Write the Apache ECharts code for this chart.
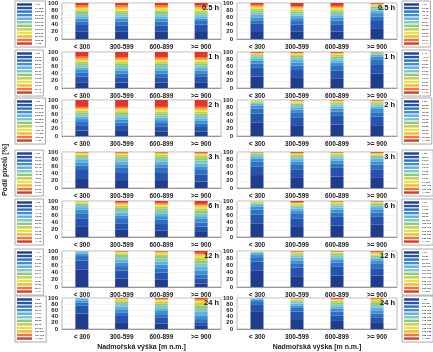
<!DOCTYPE html>
<html>
<head>
<meta charset="utf-8">
<script src="https://cdn.jsdelivr.net/npm/echarts@6/dist/echarts.min.js"></script>
<style>
  html, body { margin: 0; padding: 0; background: #fff; }
  #chart-container { width: 433px; height: 352px; }
</style>
</head>
<body>
<div id="chart-container"></div>
<script>
const categories = ["< 300", "300-599", "600-899", ">= 900"];
const durations = ["0.5 h", "1 h", "2 h", "3 h", "6 h", "12 h", "24 h"];

// colour of each class, bottom of the bar (first) to top (last)
const colors = [
  "#1f3d8c", "#2653ad", "#2e70c2", "#3f8fd2", "#5fb0dc", "#7fc7c6",
  "#8fca7c", "#bdd24c", "#f0e23c", "#f4b43e", "#ee7c2e", "#e0352a",
];

// share of pixels [%] per class, one row per height band (left column)
const left05 = [
  [20, 19, 10, 8, 6, 6, 6, 5, 5, 4, 5, 6],
  [20, 18, 10, 8, 6, 6, 6, 5, 5, 5, 5, 6],
  [20, 18, 10, 8, 7, 6, 6, 5, 5, 4, 5, 6],
  [22, 18, 10, 7, 6, 5, 6, 5, 5, 4, 5, 7],
];
const left1 = [
  [16, 16, 10, 8, 7, 6, 6, 5, 4, 4, 5, 13],
  [15, 15, 10, 8, 7, 6, 6, 5, 5, 4, 5, 14],
  [15, 15, 10, 8, 7, 6, 6, 5, 5, 4, 5, 14],
  [16, 15, 10, 8, 7, 6, 6, 5, 4, 4, 5, 14],
];
const left2 = [
  [15, 15, 9, 8, 7, 6, 5, 5, 4, 3, 4, 19],
  [14, 14, 9, 8, 7, 6, 6, 5, 4, 4, 4, 19],
  [13, 14, 9, 8, 7, 6, 6, 5, 5, 4, 4, 19],
  [12, 13, 9, 8, 7, 7, 6, 5, 5, 4, 5, 19],
];
const left3 = [
  [25, 25, 12, 9, 7, 6, 5, 4, 3, 2, 1, 1],
  [22, 22, 12, 10, 8, 7, 6, 5, 3, 2, 2, 1],
  [22, 22, 12, 10, 8, 7, 6, 5, 3, 2, 2, 1],
  [18, 20, 12, 10, 8, 8, 7, 6, 4, 3, 2, 2],
];
const left6 = [
  [28, 24, 14, 10, 7, 6, 4, 3, 2, 1, 1, 0],
  [20, 18, 12, 10, 8, 7, 6, 5, 4, 3, 3, 4],
  [18, 18, 12, 10, 8, 7, 6, 5, 4, 4, 3, 5],
  [14, 15, 11, 10, 8, 8, 7, 6, 5, 4, 4, 8],
];
const left12 = [
  [48, 26, 12, 7, 4, 2, 1, 0, 0, 0, 0, 0],
  [24, 22, 12, 10, 8, 7, 6, 4, 3, 2, 1, 1],
  [20, 20, 12, 10, 9, 8, 7, 5, 4, 2, 2, 1],
  [10, 14, 10, 12, 10, 9, 9, 7, 6, 4, 4, 5],
];
const left24 = [
  [50, 25, 10, 7, 6, 2, 0, 0, 0, 0, 0, 0],
  [22, 20, 12, 10, 9, 8, 7, 5, 3, 2, 1, 1],
  [18, 18, 12, 10, 9, 8, 7, 6, 5, 3, 2, 2],
  [10, 12, 10, 12, 11, 10, 10, 9, 6, 4, 3, 3],
];

// right column
const right05 = [
  [22, 20, 10, 8, 7, 6, 6, 5, 4, 4, 3, 5],
  [20, 20, 10, 8, 7, 6, 5, 5, 4, 3, 3, 9],
  [21, 20, 10, 8, 7, 6, 5, 5, 4, 3, 3, 8],
  [28, 22, 12, 10, 7, 6, 5, 3, 2, 2, 1, 2],
];
const right1 = [
  [32, 24, 12, 8, 6, 5, 4, 3, 2, 1, 1, 2],
  [28, 22, 12, 9, 7, 6, 5, 3, 3, 2, 1, 2],
  [27, 22, 12, 9, 7, 6, 5, 4, 3, 2, 1, 2],
  [40, 24, 16, 8, 4, 3, 2, 1, 1, 0, 0, 1],
];
const right2 = [
  [38, 24, 14, 8, 5, 4, 3, 2, 1, 1, 0, 0],
  [30, 22, 12, 9, 7, 6, 4, 3, 3, 2, 1, 1],
  [32, 24, 12, 8, 6, 5, 4, 3, 2, 2, 1, 1],
  [30, 24, 12, 9, 7, 5, 4, 3, 2, 2, 1, 1],
];
const right3 = [
  [36, 24, 14, 8, 6, 4, 3, 2, 1, 1, 0, 1],
  [30, 22, 12, 9, 7, 5, 4, 3, 2, 2, 2, 2],
  [32, 24, 12, 8, 6, 5, 4, 3, 2, 2, 1, 1],
  [30, 22, 13, 9, 7, 5, 4, 3, 2, 2, 1, 2],
];
const right6 = [
  [38, 24, 14, 8, 5, 4, 3, 2, 1, 1, 0, 0],
  [30, 22, 12, 8, 7, 5, 4, 3, 2, 2, 2, 3],
  [32, 24, 12, 8, 6, 5, 4, 3, 2, 2, 1, 1],
  [34, 22, 12, 9, 6, 5, 4, 3, 2, 1, 1, 1],
];
const right12 = [
  [45, 26, 12, 8, 4, 2, 1, 1, 1, 0, 0, 0],
  [30, 24, 12, 8, 7, 6, 4, 3, 2, 2, 1, 1],
  [32, 24, 12, 8, 6, 6, 4, 3, 2, 1, 1, 1],
  [32, 20, 12, 8, 6, 5, 4, 3, 3, 3, 2, 2],
];
const right24 = [
  [55, 25, 10, 5, 3, 2, 0, 0, 0, 0, 0, 0],
  [32, 24, 12, 8, 6, 6, 4, 3, 2, 1, 1, 1],
  [26, 18, 12, 9, 8, 7, 6, 5, 3, 2, 2, 2],
  [22, 16, 12, 10, 9, 8, 7, 6, 4, 3, 2, 1],
];

// class limits shown in the legends
const leftLimits = [
  [17, 18.5, 20, 21.5, 23, 24.5, 26, 27.5, 29, 30.5, 32],
  [21, 23, 25, 27, 29, 31, 33, 35, 37, 39, 41],
  [26, 28.5, 31, 33.5, 36, 38.5, 41, 43.5, 46, 48.5, 51],
  [30, 33, 36, 39, 42, 45, 48, 51, 54, 57, 60],
  [36, 40, 44, 48, 52, 56, 60, 64, 68, 72, 76],
  [44, 49, 54, 59, 64, 69, 74, 79, 84, 89, 94],
  [53, 59, 65, 71, 77, 83, 89, 95, 101, 107, 113],
];
const rightLimits = [
  [34, 38, 42, 46, 50, 54, 58, 62, 66, 70, 74],
  [41, 46, 51, 56, 61, 66, 71, 76, 81, 86, 91],
  [50, 55, 60, 65, 70, 75, 80, 85, 90, 95, 100],
  [55, 61, 67, 73, 79, 85, 91, 97, 103, 109, 115],
  [67, 74, 81, 88, 95, 102, 109, 116, 123, 130, 137],
  [79, 87, 95, 103, 111, 119, 127, 135, 143, 151, 159],
  [95, 105, 115, 125, 135, 145, 155, 165, 175, 185, 195],
];

const leftPanels = [left05, left1, left2, left3, left6, left12, left24];
const rightPanels = [right05, right1, right2, right3, right6, right12, right24];

const rowTops = [3, 52, 100, 152, 201, 251, 298];
const plotHeight = 36;
const font = "Liberation Sans";

function classLabels(lim) {
  const out = ["< " + lim[0]];
  for (let i = 1; i < lim.length; i++) out.push(lim[i - 1] + "-" + lim[i]);
  out.push(">= " + lim[lim.length - 1]);
  return out;
}

var dom = document.getElementById("chart-container");
var myChart = echarts.init(dom, null, { renderer: "canvas" });

const grid = [], xAxis = [], yAxis = [], series = [], legend = [], title = [];

const columns = [
  { panels: leftPanels, limits: leftLimits, left: 62, width: 159, legendLeft: 15, titleRight: 214 },
  { panels: rightPanels, limits: rightLimits, left: 237, width: 160, legendLeft: 402, titleRight: 38 },
];

let idx = 0;
columns.forEach((col, c) => {
  col.panels.forEach((panel, r) => {
    const labels = classLabels(col.limits[r]);
    grid.push({
      left: col.left, top: rowTops[r], width: col.width, height: plotHeight,
      show: true, borderColor: "#b8b8b8", borderWidth: 1,
    });
    xAxis.push({
      type: "category", gridIndex: idx, data: categories,
      axisLine: { lineStyle: { color: "#999" } },
      axisTick: { show: false },
      axisLabel: { fontFamily: font, fontWeight: "bold", fontSize: 6.5, color: "#222", margin: 5, interval: 0 },
      name: r === 6 ? "Nadmořská výška [m n.m.]" : "",
      nameLocation: "middle", nameGap: 15,
      nameTextStyle: { fontFamily: font, fontWeight: "bold", fontSize: 7, color: "#222" },
    });
    yAxis.push({
      type: "value", gridIndex: idx, min: 0, max: 100, interval: 20,
      axisLine: { show: false },
      axisTick: { show: false },
      splitLine: { lineStyle: { color: "#ececec", width: 0.6 } },
      axisLabel: {
        fontFamily: font, fontWeight: "bold", fontSize: 6, lineHeight: 6,
        color: "#222", margin: 4, hideOverlap: false,
      },
      name: c === 0 && r === 3 ? "Podíl pixelů [%]" : "",
      nameLocation: "middle", nameGap: 53,
      nameTextStyle: { fontFamily: font, fontWeight: "bold", fontSize: 7, color: "#222" },
    });
    for (let k = 0; k < 12; k++) {
      series.push({
        type: "bar", name: labels[k], stack: "p" + idx,
        xAxisIndex: idx, yAxisIndex: idx,
        barWidth: 13,
        data: panel.map(bar => bar[k]),
        itemStyle: { color: colors[k] },
      });
    }
    legend.push({
      orient: "vertical", left: col.legendLeft, top: rowTops[r] - 2,
      data: labels, icon: "rect",
      itemWidth: 15, itemHeight: 2.4, itemGap: 0.55,
      padding: [2, 2, 2, 2],
      borderColor: "#aaa", borderWidth: 1, backgroundColor: "#fff",
      selectedMode: false,
      textStyle: { fontFamily: font, fontSize: 2.5, lineHeight: 3, color: "#333", fontWeight: "bold", padding: [0, 0, 0, -2] },
    });
    title.push({
      text: durations[r], right: col.titleRight, top: rowTops[r] + 1,
      padding: 0,
      textStyle: { fontFamily: font, fontWeight: "bold", fontSize: 7.5, color: "#111" },
    });
    idx++;
  });
});

var option = {
  animation: false,
  color: colors,
  title: title,
  legend: legend,
  grid: grid,
  xAxis: xAxis,
  yAxis: yAxis,
  series: series,
};

myChart.setOption(option);
window.addEventListener("resize", myChart.resize);
</script>
</body>
</html>
